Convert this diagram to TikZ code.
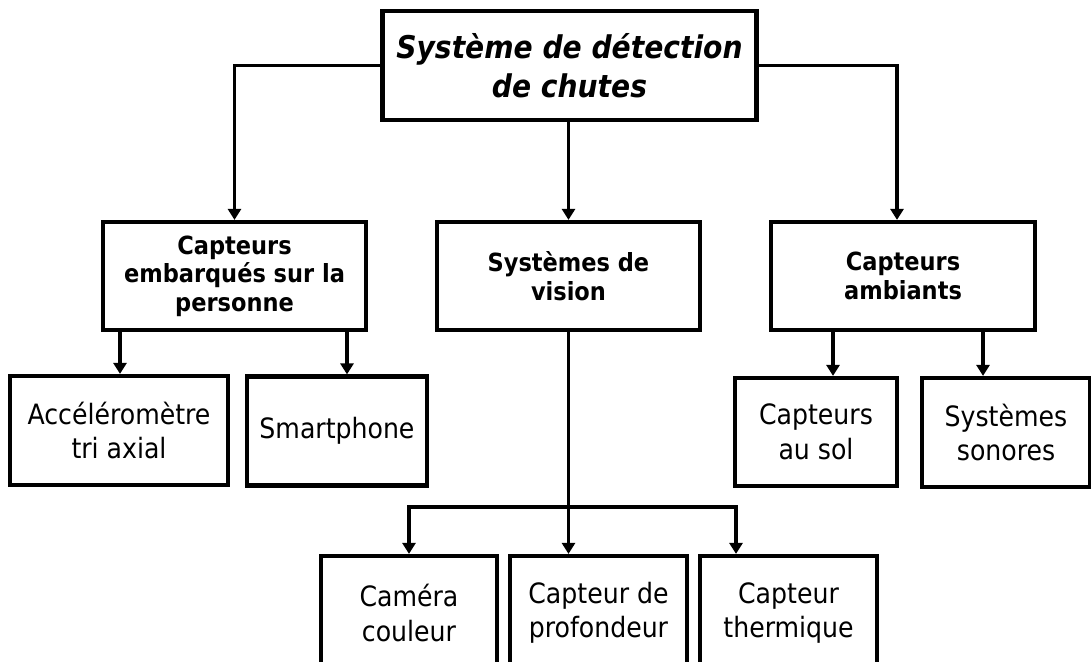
\documentclass[tikz,border=0pt]{standalone}
\usepackage{fontspec}
\setmainfont{DejaVu Sans Condensed}
\usetikzlibrary{arrows.meta}
\tikzset{
  box/.style={draw, line width=4.2pt, align=center, inner sep=0pt, minimum height=109,
    font=\fontsize{28}{34.5}\selectfont},
  headbox/.style={box, minimum height=108, font=\bfseries\fontsize{25}{28.5}\selectfont},
  titlebox/.style={box, font=\bfseries\itshape\fontsize{31.3}{38.5}\selectfont},
  link/.style={-{Triangle[length=11pt,width=13pt]}, line width=3.8pt},
}
\begin{document}
\begin{tikzpicture}[x=1pt,y=-1pt]
  \useasboundingbox (0,0) rectangle (1091,661);
  \clip (0,0) rectangle (1091,661);
  \draw
    (569.5,65.5) node[titlebox, minimum width=374] (sys) {Système de détection\\de chutes}
    (234.5,276) node[headbox, minimum width=263] (emb) {Capteurs\\embarqués sur la\\personne}
    (568.5,276) node[headbox, minimum width=263] (vis) {Systèmes de\\vision}
    (903,276) node[headbox, minimum width=264] (amb) {Capteurs\\ambiants}
    (119,430.5) node[box, minimum width=218] (acc) {Accéléromètre\\tri axial}
    (337,431) node[box, minimum width=180] (smart) {Smartphone}
    (816,432) node[box, minimum width=162, minimum height=108] (sol) {Capteurs\\au sol}
    (1006,432.5) node[box, minimum width=168] (son) {Systèmes\\sonores}
    (409,613) node[box, minimum width=176, minimum height=114] (cam) {Caméra\\couleur}
    (598.5,613) node[box, minimum width=177, minimum height=114] (prof) {Capteur de\\profondeur}
    (788.5,613) node[box, minimum width=177, minimum height=114] (therm) {Capteur\\thermique};
  \coordinate (x1) at (120,0);
  \coordinate (x2) at (347,0);
  \coordinate (x3) at (897,0);
  \coordinate (x4) at (833,0);
  \coordinate (x5) at (983,0);
  \coordinate (x6) at (736,0);
  \coordinate (fork) at (568.5,507);
  \begin{scope}[link]
    \draw (sys.west) -| (emb.north);
    \draw (vis.north |- sys.south) to (vis.north);
    \draw (sys.east) -| (amb.north -| x3);
    \draw (emb.south -| x1) to (acc.north -| x1);
    \draw (emb.south -| x2) to (smart.north -| x2);
    \draw (amb.south -| x4) to (sol.north -| x4);
    \draw (amb.south -| x5) to (son.north -| x5);
    \draw (vis.south) to (vis.south |- prof.north);
    \draw (fork) -| (cam.north);
    \draw (fork) -| (therm.north -| x6);
  \end{scope}
\end{tikzpicture}
\end{document}
